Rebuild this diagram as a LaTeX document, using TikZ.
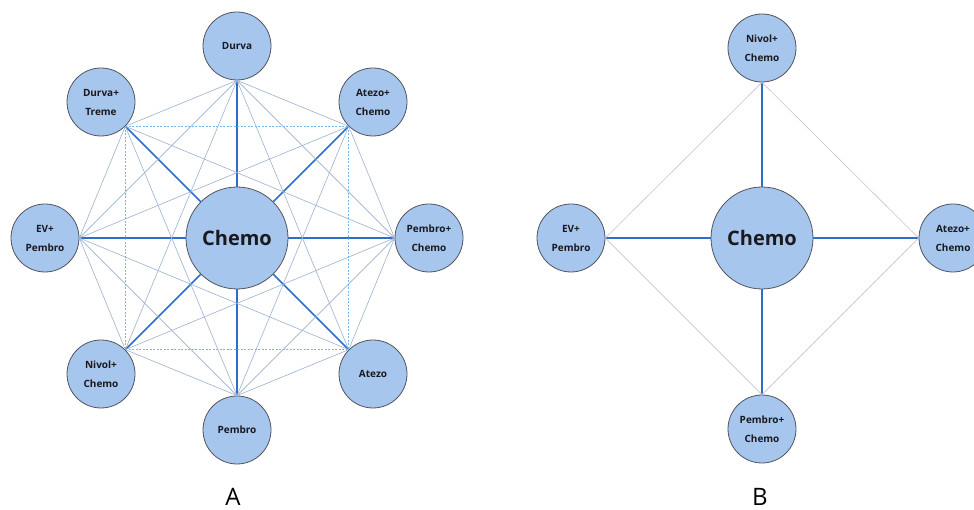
\documentclass[tikz,border=0pt]{standalone}
\usepackage{fontspec}
\setmainfont{Open Sans}
\usepackage{xcolor}
\usepackage{tikz}
\usetikzlibrary{positioning}

\definecolor{nodefill}{RGB}{167,198,238}
\definecolor{nodeline}{RGB}{80,84,92}
\definecolor{spokeblue}{RGB}{45,110,200}
\definecolor{linkgrey}{RGB}{155,176,208}
\definecolor{dashblue}{RGB}{115,182,240}
\definecolor{plaingrey}{RGB}{196,198,205}
\definecolor{labeltext}{RGB}{25,25,30}

\begin{document}
\begin{tikzpicture}[
    x=1pt, y=1pt,
    drug/.style={
        circle,
        draw=nodeline,
        line width=0.8pt,
        fill=nodefill,
        text=labeltext,
        minimum size=68pt,
        inner sep=0pt,
        align=center,
        font=\bfseries\fontsize{10}{19}\selectfont
    },
    hub/.style={
        drug,
        minimum size=102pt,
        font=\bfseries\fontsize{20}{24}\selectfont
    },
    spoke/.style={draw=spokeblue, line width=1.5pt},
    link/.style={draw=linkgrey, line width=0.6pt},
    dlink/.style={draw=dashblue, line width=0.8pt, dash pattern=on 2pt off 1.5pt},
    glink/.style={draw=plaingrey, line width=0.6pt},
    panel/.style={font=\fontsize{24}{28}\selectfont}
]
    \useasboundingbox (0,0) rectangle (974,510);

    % network A
    \node[hub] (hubA) at (237,272) {Chemo};
    \node[drug] (durva) at (237,464) {Durva};
    \node[drug] (atezoChemoA) at (373,408) {Atezo+\\Chemo};
    \node[drug] (pembroChemoA) at (429,272) {Pembro+\\Chemo};
    \node[drug] (atezo) at (373,136) {Atezo};
    \node[drug] (pembro) at (237,80) {Pembro};
    \node[drug] (nivolChemoA) at (101,136) {Nivol+\\Chemo};
    \node[drug] (evPembroA) at (45,272) {EV+\\Pembro};
    \node[drug] (durvaTreme) at (101,408) {Durva+\\Treme};

    \foreach \n in {durva,atezoChemoA,pembroChemoA,atezo,pembro,nivolChemoA,evPembroA,durvaTreme}
        \draw[spoke] (hubA) -- (\n);

    \foreach \p/\pa/\q/\qa in {
        durva/270/atezoChemoA/225, durva/270/pembroChemoA/180, durva/270/atezo/135,
        durva/270/nivolChemoA/45, durva/270/evPembroA/0, durva/270/durvaTreme/315,
        atezoChemoA/225/pembroChemoA/180, atezoChemoA/225/pembro/90, atezoChemoA/225/evPembroA/0,
        pembroChemoA/180/atezo/135, pembroChemoA/180/pembro/90,
        pembroChemoA/180/nivolChemoA/45, pembroChemoA/180/durvaTreme/315,
        atezo/135/pembro/90, atezo/135/evPembroA/0,
        pembro/90/nivolChemoA/45, pembro/90/evPembroA/0, pembro/90/durvaTreme/315,
        nivolChemoA/45/evPembroA/0, evPembroA/0/durvaTreme/315}
        \draw[link] (\p.\pa) -- (\q.\qa);

    \foreach \p/\pa/\q/\qa in {
        durvaTreme/315/atezoChemoA/225, durvaTreme/315/nivolChemoA/45,
        atezoChemoA/225/atezo/135, nivolChemoA/45/atezo/135}
        \draw[dlink] (\p.\pa) -- (\q.\qa);

    \node[panel] (labA) at (233,13) {A};

    % network B
    \node[hub] (hubB) at (762,272) {Chemo};
    \node[drug] (nivolChemoB) at (762,462) {Nivol+\\Chemo};
    \node[drug] (atezoChemoB) at (953,272) {Atezo+\\Chemo};
    \node[drug] (pembroChemoB) at (762,81) {Pembro+\\Chemo};
    \node[drug] (evPembroB) at (571,272) {EV+\\Pembro};

    \foreach \n in {nivolChemoB,atezoChemoB,pembroChemoB,evPembroB}
        \draw[spoke] (hubB) -- (\n);

    \draw[glink] (evPembroB.east) -- (nivolChemoB.south);
    \draw[glink] (nivolChemoB.south) -- (atezoChemoB.west);
    \draw[glink] (atezoChemoB.west) -- (pembroChemoB.north);
    \draw[glink] (pembroChemoB.north) -- (evPembroB.east);

    \node[panel] (labB) at (760,13) {B};
\end{tikzpicture}
\end{document}
